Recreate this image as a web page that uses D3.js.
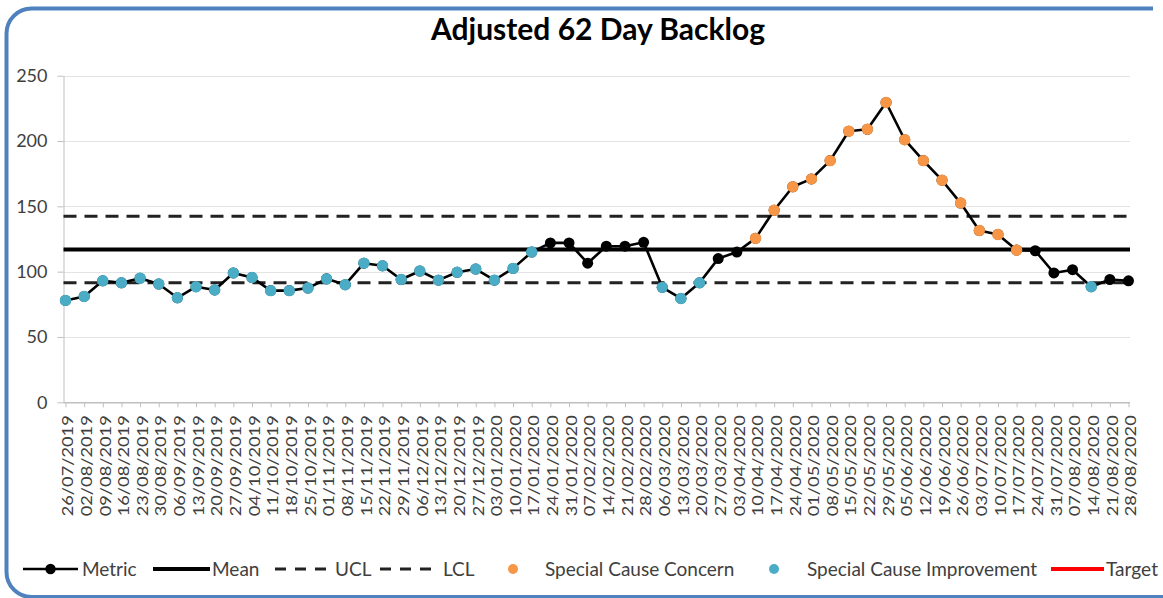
<!DOCTYPE html>
<html><head><meta charset="utf-8">
<script src="https://cdn.jsdelivr.net/npm/d3@7"></script>
<style>html,body{margin:0;padding:0;background:#fff;overflow:hidden}</style>
</head><body><svg id="c" width="1163" height="598"></svg>
<script>
const title = "Adjusted 62 Day Backlog";
const dates = ["26/07/2019","02/08/2019","09/08/2019","16/08/2019","23/08/2019","30/08/2019","06/09/2019","13/09/2019","20/09/2019","27/09/2019","04/10/2019","11/10/2019","18/10/2019","25/10/2019","01/11/2019","08/11/2019","15/11/2019","22/11/2019","29/11/2019","06/12/2019","13/12/2019","20/12/2019","27/12/2019","03/01/2020","10/01/2020","17/01/2020","24/01/2020","31/01/2020","07/02/2020","14/02/2020","21/02/2020","28/02/2020","06/03/2020","13/03/2020","20/03/2020","27/03/2020","03/04/2020","10/04/2020","17/04/2020","24/04/2020","01/05/2020","08/05/2020","15/05/2020","22/05/2020","29/05/2020","05/06/2020","12/06/2020","19/06/2020","26/06/2020","03/07/2020","10/07/2020","17/07/2020","24/07/2020","31/07/2020","07/08/2020","14/08/2020","21/08/2020","28/08/2020"];
const metric = [78,81,93,91.5,95,90.5,80,88.5,86,99,95.5,85.5,85.5,87.5,94.5,90,106.5,104.5,94,100.5,93.5,99.5,102,93.5,102.5,115,122,122,106.5,119.5,119.5,122.5,88,79.5,91.5,110,115,125.5,147,165,171,185,207.5,209,229.5,201,185,170,152.5,131.5,128.5,116.5,116,99,101.5,88.5,94,93];
const specialConcern = [null,null,null,null,null,null,null,null,null,null,null,null,null,null,null,null,null,null,null,null,null,null,null,null,null,null,null,null,null,null,null,null,null,null,null,null,null,125.5,147,165,171,185,207.5,209,229.5,201,185,170,152.5,131.5,128.5,116.5,null,null,null,null,null,null];
const specialImprovement = [78,81,93,91.5,95,90.5,80,88.5,86,99,95.5,85.5,85.5,87.5,94.5,90,106.5,104.5,94,100.5,93.5,99.5,102,93.5,102.5,115,null,null,null,null,null,null,88,79.5,91.5,null,null,null,null,null,null,null,null,null,null,null,null,null,null,null,null,null,null,null,null,88.5,null,null];
const meanValue = 117;
const uclValue = 142.5;
const lclValue = 91.5;
const yTicks = [0,50,100,150,200,250];
const legendLabels = ["Metric","Mean","UCL","LCL","Special Cause Concern","Special Cause Improvement","Target"];

const ORANGE = "#f79646", BLUE = "#4bacc6", TXT = "#404040";
const FONT = "Lato, 'Open Sans', sans-serif";
const svg = d3.select("#c");

// border
svg.append("path")
  .attr("d","M1153,8.5 H31.5 A25,25 0 0 0 6.5,33.5 V572 A25,25 0 0 0 31.5,597 H1170")
  .attr("fill","none").attr("stroke","#4f81bd").attr("stroke-width",4);

// title
svg.append("text").attr("x",598).attr("y",40).attr("text-anchor","middle")
  .attr("font-family",FONT).attr("font-weight","bold").attr("font-size",30).attr("fill","#000")
  .text(title);

const x = d3.scalePoint().domain(dates).range([65.5, 1128.5]);
const y = d3.scaleLinear().domain([0,250]).range([402.3, 75.7]);
const L = 63.5, R = 1130;

// gridlines
svg.append("g").selectAll("line").data(yTicks.filter(d=>d>0)).join("line")
  .attr("x1",L).attr("x2",R).attr("y1",d=>Math.round(y(d))+0.5).attr("y2",d=>Math.round(y(d))+0.5)
  .attr("stroke","#e3e3e3").attr("stroke-width",1.2);

// y axis
const ya = svg.append("g").attr("transform",`translate(${L},0)`)
  .call(d3.axisLeft(y).tickValues(yTicks).tickSize(6).tickSizeOuter(0).tickPadding(10));
ya.select(".domain").attr("stroke","#bfbfbf");
ya.selectAll(".tick line").attr("stroke","#bfbfbf");
ya.selectAll(".tick text").attr("font-family",FONT).attr("font-size",18).attr("fill",TXT).attr("x",-16);

// x axis
const xa = svg.append("g").attr("transform",`translate(0,${y(0)})`)
  .call(d3.axisBottom(x).tickSize(5).tickSizeOuter(0));
xa.select(".domain").attr("d",`M${L},0.5H${R}`).attr("stroke","#bfbfbf").attr("stroke-width",1.5);
xa.selectAll(".tick line").attr("stroke","#bfbfbf");
xa.selectAll(".tick text")
  .attr("transform","translate(2,13) rotate(-90)")
  .attr("x",0).attr("y",0).attr("dy","0.36em")
  .attr("text-anchor","end")
  .attr("font-family",FONT).attr("font-size",14.5).attr("fill",TXT)
  .attr("textLength",101).attr("lengthAdjust","spacingAndGlyphs");

// reference lines
const refs = [
  {v:meanValue, dash:null, w:4},
  {v:uclValue, dash:"13,8", w:3},
  {v:lclValue, dash:"13,8", w:3}
];
svg.append("g").selectAll("line").data(refs).join("line")
  .attr("x1",L).attr("x2",R).attr("y1",d=>y(d.v)).attr("y2",d=>y(d.v))
  .attr("stroke",d=>d.dash? "#222":"#000").attr("stroke-width",d=>d.w)
  .attr("stroke-dasharray",d=>d.dash);

// metric line
const line = d3.line().x((d,i)=>x(dates[i])).y(d=>y(d));
svg.append("path").datum(metric).attr("d",line).attr("fill","none")
  .attr("stroke","#000").attr("stroke-width",2.6).attr("stroke-linejoin","round");
svg.append("g").selectAll("circle").data(metric).join("circle")
  .attr("cx",(d,i)=>x(dates[i])).attr("cy",d=>y(d)).attr("r",5.5).attr("fill","#000");
const sc = specialConcern.map((v,i)=>({v,i})).filter(d=>d.v!==null);
svg.append("g").selectAll("circle").data(sc).join("circle")
  .attr("cx",d=>x(dates[d.i])).attr("cy",d=>y(d.v)).attr("r",5.7).attr("fill",ORANGE);
const si = specialImprovement.map((v,i)=>({v,i})).filter(d=>d.v!==null);
svg.append("g").selectAll("circle").data(si).join("circle")
  .attr("cx",d=>x(dates[d.i])).attr("cy",d=>y(d.v)).attr("r",5.7).attr("fill",BLUE);

// legend
const LY = 569;
const lg = svg.append("g").attr("font-family",FONT).attr("font-size",19).attr("fill",TXT);
const items = [
  {type:"metric", x0:23, x1:78, tx:82},
  {type:"mean", x0:153, x1:210, tx:212},
  {type:"dash", x0:275, x1:327, tx:335},
  {type:"dash", x0:380, x1:435, tx:443},
  {type:"dot", c:ORANGE, cx:513, tx:545},
  {type:"dot", c:BLUE, cx:774, tx:807},
  {type:"red", x0:1051, x1:1104, tx:1106}
];
items.forEach((it,k)=>{
  if (it.type==="metric") {
    lg.append("line").attr("x1",it.x0).attr("x2",it.x1).attr("y1",LY).attr("y2",LY).attr("stroke","#000").attr("stroke-width",2.6);
    lg.append("circle").attr("cx",(it.x0+it.x1)/2).attr("cy",LY).attr("r",5.2).attr("fill","#000");
  } else if (it.type==="mean") {
    lg.append("line").attr("x1",it.x0).attr("x2",it.x1).attr("y1",LY).attr("y2",LY).attr("stroke","#000").attr("stroke-width",4);
  } else if (it.type==="dash") {
    lg.append("line").attr("x1",it.x0).attr("x2",it.x1).attr("y1",LY).attr("y2",LY).attr("stroke","#222").attr("stroke-width",3).attr("stroke-dasharray","11,9");
  } else if (it.type==="dot") {
    lg.append("circle").attr("cx",it.cx).attr("cy",LY).attr("r",5).attr("fill",it.c);
  } else if (it.type==="red") {
    lg.append("line").attr("x1",it.x0).attr("x2",it.x1).attr("y1",LY).attr("y2",LY).attr("stroke","#ff0000").attr("stroke-width",4);
  }
  const t = lg.append("text").attr("x",it.tx).attr("y",LY).attr("dy","0.35em").text(legendLabels[k]);
  if (it.type==="red") t.attr("textLength",52).attr("lengthAdjust","spacingAndGlyphs");
});
</script>
</body></html>
